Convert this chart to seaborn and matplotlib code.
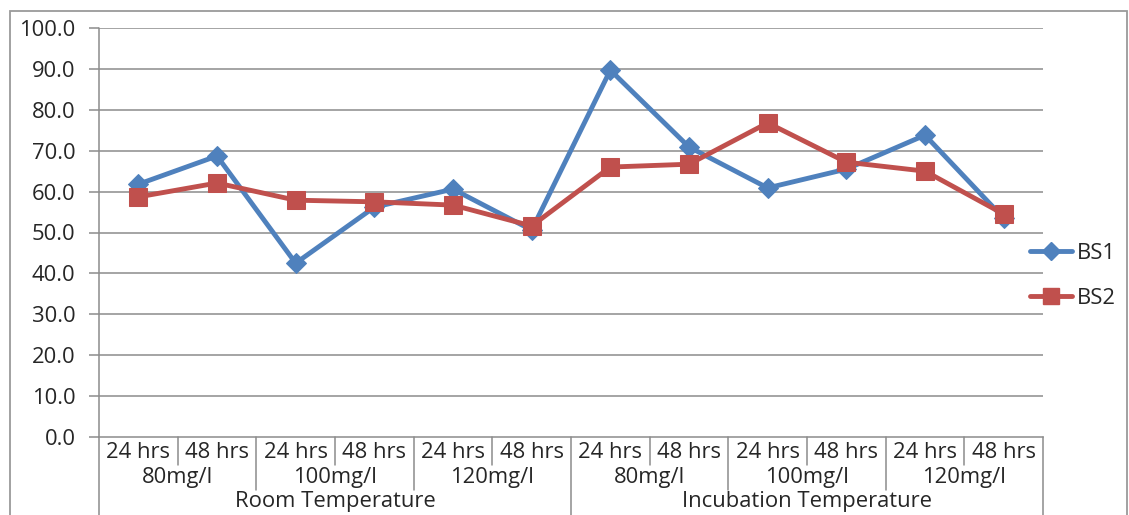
import matplotlib
matplotlib.use("Agg")
import matplotlib.pyplot as plt
from matplotlib.lines import Line2D
from matplotlib.patches import Rectangle
import numpy as np
import pandas as pd
import seaborn as sns

# ---- data ----
times = ["24 hrs", "48 hrs"] * 6
doses = ["80mg/l", "100mg/l", "120mg/l"] * 2
conditions = ["Room Temperature", "Incubation Temperature"]
bs1 = [61.8, 68.7, 42.5, 56.2, 60.6, 50.6, 89.7, 70.9, 60.9, 65.5, 73.8, 53.5]
bs2 = [58.7, 62.1, 57.9, 57.5, 56.7, 51.6, 66.0, 66.7, 76.8, 67.2, 65.0, 54.5]
y_ticks = [0, 10, 20, 30, 40, 50, 60, 70, 80, 90, 100]

colors = {"BS1": "#4F81BD", "BS2": "#C0504D"}
markers = {"BS1": "D", "BS2": "s"}

n = len(times)
idx = np.arange(n)
df = pd.DataFrame({
    "pos": np.concatenate([idx, idx]),
    "value": bs1 + bs2,
    "series": ["BS1"] * n + ["BS2"] * n,
})

sns.set_style("white")
plt.rcParams["font.family"] = ["Open Sans", "DejaVu Sans"]
FS = 15.8
TXT = "#262626"
GRID = "#8c8c8c"

W, H = 1129, 515
fig = plt.figure(figsize=(W / 100, H / 100), dpi=100)
ax = fig.add_axes([99 / W, 78 / H, (1043 - 99) / W, (437 - 28) / H])

for s in ["BS1", "BS2"]:
    sub = df[df.series == s]
    sns.lineplot(data=sub, x="pos", y="value", ax=ax, color=colors[s],
                 linewidth=3.5, marker=markers[s],
                 markersize=10 if s == "BS1" else 12.5,
                 markeredgecolor=colors[s], legend=False, zorder=3)

ax.set_xlim(-0.5, n - 0.5)
ax.set_ylim(0, 100)
ax.set_yticks(y_ticks)
ax.set_yticklabels([f"{v:.1f}" for v in y_ticks], fontsize=FS, color=TXT)
ax.set_xticks([])
ax.set_xlabel("")
ax.set_ylabel("")
for v in y_ticks[1:]:
    ax.axhline(v, color=GRID, lw=1.1, zorder=1)
for sp in ["top", "right"]:
    ax.spines[sp].set_visible(False)
ax.spines["left"].set_visible(False)
ax.spines["bottom"].set_color(GRID)
ax.spines["bottom"].set_linewidth(1.1)
ax.tick_params(axis="y", length=7, color=GRID, width=1.1, pad=10, left=True)

# y axis line extending to the bottom of the category area
trans = ax.get_xaxis_transform()
ax_h = 437 - 28
def ay(px):
    return (437 - px) / ax_h

ax.plot([-0.5, -0.5], [1, ay(515)], transform=trans, color=GRID, lw=1.1,
        clip_on=False, zorder=2)

# multi-level category labels and separators
for i in range(n):
    ax.text(i, ay(452), times[i], transform=trans, ha="center", va="center",
            fontsize=FS, color=TXT)
for i in range(1, n):
    b = i - 0.5
    if i % 6 == 0:
        y_end = ay(515)
    elif i % 2 == 0:
        y_end = ay(490)
    else:
        y_end = ay(465)
    ax.plot([b, b], [0, y_end], transform=trans, color=GRID, lw=1.1,
            clip_on=False)
ax.plot([n - 0.5, n - 0.5], [0, ay(515)], transform=trans, color=GRID,
        lw=1.1, clip_on=False)
for j, d in enumerate(doses):
    ax.text(2 * j + 0.5, ay(477), d, transform=trans, ha="center",
            va="center", fontsize=FS, color=TXT)
for k, c in enumerate(conditions):
    ax.text(6 * k + 2.5, ay(502), c, transform=trans, ha="center",
            va="center", fontsize=FS, color=TXT)

# legend
handles = [Line2D([0], [0], color=colors[s], lw=3.5, marker=markers[s],
                  markersize=9 if s == "BS1" else 12,
                  markeredgecolor=colors[s]) for s in ["BS1", "BS2"]]
fig.legend(handles, ["BS1", "BS2"], loc="center left",
           bbox_to_anchor=(1030 / W, 1 - 276 / H), frameon=False,
           fontsize=FS, labelcolor=TXT, handlelength=1.9, handletextpad=0.25,
           labelspacing=1.1, borderaxespad=0, borderpad=0)

# outer chart frame
fig.patches.append(Rectangle((10 / W, -0.05), (1127 - 10) / W, 1.05 - 11 / H,
                             transform=fig.transFigure, fill=False,
                             edgecolor="#9a9a9a", lw=1.3))

fig.savefig("out.png", dpi=100, facecolor="white")
